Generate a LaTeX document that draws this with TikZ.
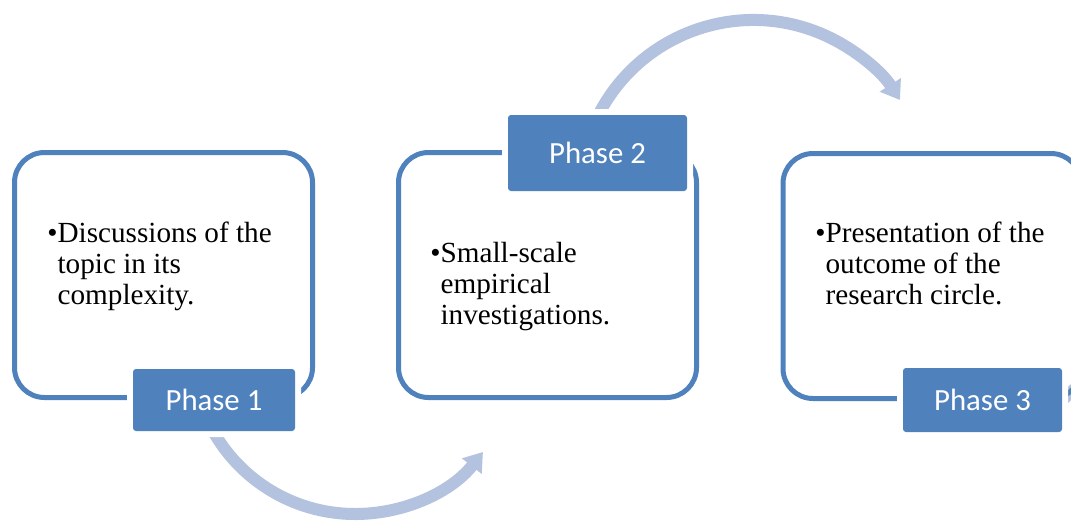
\documentclass[tikz,border=0pt]{standalone}
\usepackage{fontspec}
\setmainfont{Liberation Serif}
\newfontfamily\phasefont{Carlito}
\usetikzlibrary{arrows.meta}
\definecolor{phaseblue}{RGB}{79,129,189}
\definecolor{flowblue}{RGB}{179,194,222}

\begin{document}
\begin{tikzpicture}[x=0.5pt, y=-0.5pt,
    phasebox/.style={draw=phaseblue, line width=2.5pt, rounded corners=15pt,
                     minimum width=149pt, minimum height=122.5pt},
    phaselabel/.style={fill=phaseblue, rounded corners=1.5pt, text=white,
                       font=\phasefont\fontsize{15.4}{18}\selectfont,
                       preaction={draw=white, line width=6pt}},
    bullettext/.style={anchor=base west, inner sep=0pt,
                       font=\fontsize{14.6}{15.5}\selectfont},
    flow/.style={draw=flowblue, line width=6pt,
                 -{Triangle[width=12pt, length=9pt]}}]
    \clip (0,0) rectangle (1071,527);

    \coordinate (from1) at (209.8,425);
    \coordinate (from2) at (595.7,120.5);
    \coordinate (from3) at (1058,405);
    \draw[flow] (from1) arc[start angle=153, end angle=38.3, radius=163];
    \draw[flow] (from2) arc[start angle=205, end angle=327.3, radius=174.1];
    \draw[flow, -] (from3) arc[start angle=222, end angle=240, radius=174];

    \node[phasebox] (box1) at (163.5,275) {};
    \node[phasebox] (box2) at (547.5,275) {};
    \node[phasebox] (box3) at (932,276) {};

    \node[phaselabel, minimum width=81pt, minimum height=31pt] (phase1) at (214,400) {Phase 1};
    \node[phaselabel, minimum width=89.5pt, minimum height=38pt] (phase2) at (597.5,153) {Phase 2};
    \node[phaselabel, minimum width=79.5pt, minimum height=32pt] (phase3) at (982.5,400) {Phase 3};

    \node[bullettext] (text1) at (47,242) {\begin{tabular}[t]{@{}l@{}l@{}}
        \textbullet & Discussions of the\\
                    & topic in its\\
                    & complexity.
      \end{tabular}};
    \node[bullettext] (text2) at (430,262) {\begin{tabular}[t]{@{}l@{}l@{}}
        \textbullet & Small-scale\\
                    & empirical\\
                    & investigations.
      \end{tabular}};
    \node[bullettext] (text3) at (815,242) {\begin{tabular}[t]{@{}l@{}l@{}}
        \textbullet & Presentation of the\\
                    & outcome of the\\
                    & research circle.
      \end{tabular}};
\end{tikzpicture}
\end{document}
